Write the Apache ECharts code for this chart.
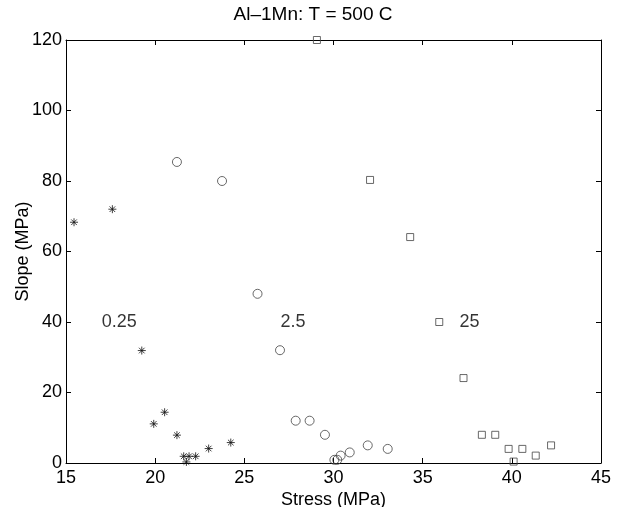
<!DOCTYPE html>
<html><head><meta charset="utf-8">
<script src="https://cdn.jsdelivr.net/npm/echarts@6/dist/echarts.min.js"></script>
<style>html,body{margin:0;padding:0;background:#fff}#c{width:626px;height:507px}</style>
</head><body><div id="c"></div>
<script>
const titleText = 'Al\u20131Mn: T = 500 C';
const xName = 'Stress (MPa)';
const yName = 'Slope (MPa)';
const xTicks = [15, 20, 25, 30, 35, 40, 45];
const yTicks = [0, 20, 40, 60, 80, 100, 120];

// strain rate 0.25 (asterisks)
const stress025 = [15.45, 17.6, 19.25, 19.92, 20.53, 21.22, 21.6, 21.9, 22.27, 21.75, 23.0, 24.24];
const slope025  = [68.3, 72.0, 31.9, 11.1, 14.4, 7.9, 1.9, 1.9, 1.9, 0.3, 4.1, 5.8];

// strain rate 2.5 (circles)
const stress25c = [21.22, 23.75, 25.74, 27.0, 27.88, 28.66, 29.52, 30.05, 30.21, 30.4, 30.91, 31.92, 33.04];
const slope25c  = [85.4, 80.0, 48.0, 32.0, 12.0, 12.0, 8.0, 0.9, 0.9, 2.1, 3.0, 5.0, 4.0];

// strain rate 25 (squares)
const stress250 = [29.07, 32.05, 34.3, 35.93, 37.29, 38.32, 39.07, 39.82, 40.59, 41.34, 42.2, 40.1];
const slope250  = [120.0, 80.3, 64.1, 40.0, 24.1, 8.0, 8.0, 4.0, 4.0, 2.1, 5.0, 0.4];

// annotation labels
const labelText = ['0.25', '2.5', '25'];
const labelX = [17.0, 27.03, 37.07];
const labelY = [40, 40, 40];

const zip = (a, b) => a.map((v, i) => [v, b[i]]);
const star = 'path://M0,-1L0,1M-1,0L1,0M-0.7,-0.7L0.7,0.7M-0.7,0.7L0.7,-0.7';
const font = 'Liberation Sans, Arial, Helvetica, sans-serif';

const chart = echarts.init(document.getElementById('c'));
const axisCommon = {
  axisLine: {show: true, onZero: false, lineStyle: {color: '#000', width: 1}},
  axisTick: {show: true, inside: true, length: 5, lineStyle: {color: '#000'}},
  splitLine: {show: false},
  nameMoveOverlap: false,
  nameTextStyle: {color: '#000', fontSize: 18, fontFamily: font},
  axisLabel: {color: '#000', fontSize: 18, fontFamily: font}
};
chart.setOption({
  animation: false,
  backgroundColor: '#fff',
  title: {text: titleText, left: 'center', top: 0, textStyle: {fontSize: 19, fontWeight: 'normal', color: '#000', fontFamily: font}},
  grid: {left: 66, top: 40, right: 25, bottom: 44, show: false, containLabel: false, outerBoundsMode: 'none'},
  xAxis: [
    Object.assign({}, axisCommon, {type: 'value', min: xTicks[0], max: xTicks[xTicks.length-1], interval: 5,
      name: xName, nameLocation: 'middle', nameGap: 28,
      axisLabel: Object.assign({}, axisCommon.axisLabel, {margin: 6})}),
    Object.assign({}, axisCommon, {type: 'value', position: 'top', min: xTicks[0], max: xTicks[xTicks.length-1], interval: 5,
      axisLabel: {show: false}})
  ],
  yAxis: [
    Object.assign({}, axisCommon, {type: 'value', min: yTicks[0], max: yTicks[yTicks.length-1], interval: 20,
      name: yName, nameLocation: 'middle', nameGap: 34,
      axisLabel: Object.assign({}, axisCommon.axisLabel, {margin: 4})}),
    Object.assign({}, axisCommon, {type: 'value', position: 'right', min: yTicks[0], max: yTicks[yTicks.length-1], interval: 20,
      axisLabel: {show: false}})
  ],
  series: [
    {type: 'scatter', data: zip(stress025, slope025), symbol: star, symbolSize: 8, clip: false,
      itemStyle: {color: 'rgba(0,0,0,0)', borderColor: '#111', borderWidth: 1}},
    {type: 'scatter', data: zip(stress25c, slope25c), symbol: 'circle', symbolSize: 9, clip: false,
      itemStyle: {color: 'rgba(0,0,0,0)', borderColor: '#444', borderWidth: 1}},
    {type: 'scatter', data: zip(stress250, slope250), symbol: 'rect', symbolSize: 7, clip: false,
      itemStyle: {color: 'rgba(0,0,0,0)', borderColor: '#444', borderWidth: 1}},
    {type: 'scatter', symbolSize: 0, silent: true,
      data: labelText.map((t, i) => ({name: t, value: [labelX[i], labelY[i]]})),
      label: {show: true, position: 'right', distance: 0, formatter: p => p.name,
        color: '#000', fontSize: 18, fontFamily: font}}
  ]
});
</script></body></html>
